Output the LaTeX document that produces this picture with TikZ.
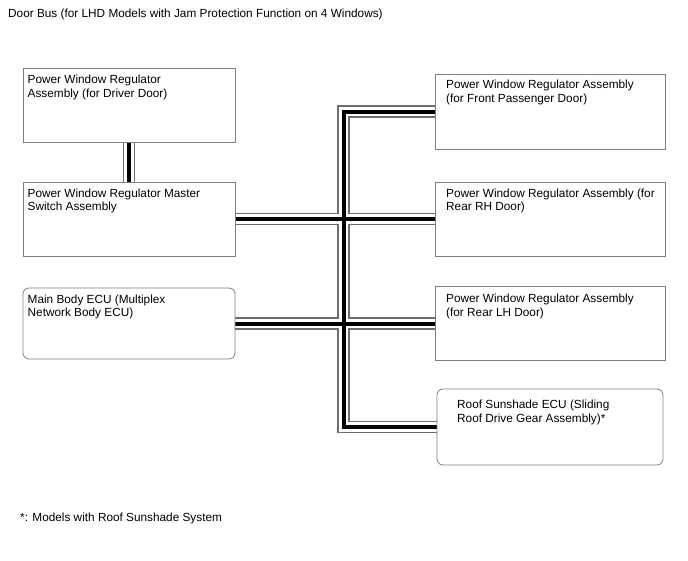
\documentclass[tikz,border=0pt]{standalone}
\usepackage{fontspec}
\setmainfont{Liberation Sans}
\usetikzlibrary{backgrounds}
\definecolor{bordergray}{HTML}{808080}
\definecolor{busgray}{HTML}{6E6E6E}
\tikzset{
  box/.style={draw=bordergray, line width=0.8pt, fill=white, rectangle, inner sep=0pt},
  rbox/.style={box, rounded corners=6pt},
  txt/.style={anchor=north west, inner sep=0pt, align=left, font=\fontsize{11.8}{13.3}\selectfont},
  busouter/.style={draw=busgray, line width=12.4pt, line join=miter},
  businner/.style={draw=white, line width=9.6pt, line join=miter},
  buscore/.style={draw=black, line width=4pt, line join=miter},
}
\newcommand{\busnet}[1]{%
  \draw[#1] (fp.west) -| (trunk) |- (rs.west);
  \draw[#1] (ms.east) -- (rh.west);
  \draw[#1] (mb.east) -- (lh.west);
  \draw[#1] (drv.south -| drvx) -- (ms.north -| drvx);
}
\begin{document}
\begin{tikzpicture}[x=1pt, y=-1pt]
\useasboundingbox (0,0) rectangle (688,560);
% boxes
\node[box, minimum width=212pt, minimum height=74pt] (drv) at (129,105) {};
\node[box, minimum width=212pt, minimum height=74pt] (ms) at (129,219) {};
\node[rbox, minimum width=212pt, minimum height=71pt] (mb) at (129,323.5) {};
\node[box, minimum width=230pt, minimum height=75pt] (fp) at (550,111.5) {};
\node[box, minimum width=230pt, minimum height=74pt] (rh) at (550,219) {};
\node[box, minimum width=230pt, minimum height=74pt] (lh) at (550,323.5) {};
\node[rbox, minimum width=226pt, minimum height=76pt] (rs) at (550,427) {};
\coordinate (trunk) at (343.5,300);
\coordinate (drvx) at (129,160);
% bus
\begin{pgfonlayer}{background}
\busnet{busouter}
\busnet{businner}
\busnet{buscore}
\end{pgfonlayer}
% texts
\node[txt] (t0) at (8,9) {Door Bus (for LHD Models with Jam Protection Function on 4 Windows)};
\node[txt] (tdrv) at (27.5,75.2) {Power Window Regulator\\Assembly (for Driver Door)};
\node[txt] (tms) at (27.5,188.8) {Power Window Regulator Master\\Switch Assembly};
\node[txt] (tmb) at (27.5,294.5) {Main Body ECU (Multiplex\\Network Body ECU)};
\node[txt] (tfp) at (446,80.2) {Power Window Regulator Assembly\\(for Front Passenger Door)};
\node[txt] (trh) at (446,188.5) {Power Window Regulator Assembly (for\\Rear RH Door)};
\node[txt] (tlh) at (446,294) {Power Window Regulator Assembly\\(for Rear LH Door)};
\node[txt] (trs) at (457,400.2) {Roof Sunshade ECU (Sliding\\Roof Drive Gear Assembly)*};
\node[txt] (tfn) at (20,513) {*: Models with Roof Sunshade System};
\end{tikzpicture}
\end{document}
